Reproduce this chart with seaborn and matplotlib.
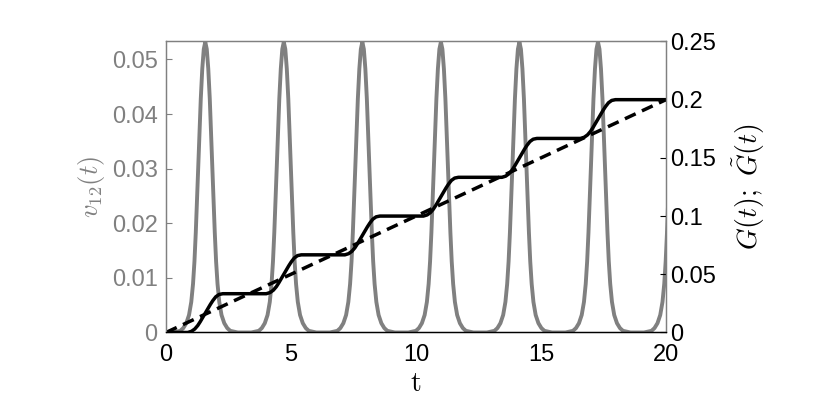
import numpy as np
import pandas as pd
import matplotlib
matplotlib.use("Agg")
import matplotlib.pyplot as plt
import seaborn as sns

# ---------------- data ----------------
# centres of the v12(t) pulses (t)
peak_t = [1.571, 4.712, 7.854, 10.996, 14.137, 17.279, 20.420]
# half-profile of one pulse: offset from centre and value
pulse_half_dt = [0.0, 0.06, 0.12, 0.18, 0.233, 0.28, 0.327, 0.38, 0.433,
                 0.49, 0.56, 0.65, 0.76, 0.88, 1.0, 1.3]
pulse_half_v = [0.0532, 0.0519, 0.0483, 0.0428, 0.0365, 0.0305, 0.0245,
                0.0183, 0.0130, 0.0089, 0.0056, 0.0032, 0.0017, 0.0008,
                0.0003, 0.0]

# G(t) staircase: step centres, plateau levels, shape of one step
step_t = [1.571, 4.712, 7.854, 10.996, 14.137, 17.279]
plateau_G = [0.0, 0.0333, 0.0667, 0.1000, 0.1333, 0.1667, 0.2000]
step_dt = [-0.7, -0.55, -0.42, -0.3, -0.2, -0.1, 0.0, 0.1, 0.2, 0.3, 0.42,
           0.55, 0.7]
step_frac = [0.0, 0.03, 0.09, 0.18, 0.28, 0.39, 0.5, 0.61, 0.72, 0.82,
             0.92, 0.98, 1.0]

# dashed trend G~(t)
trend_t = [0.0, 20.0]
trend_G = [0.0, 0.2]

x_ticks = [0, 5, 10, 15, 20]
left_ticks = [0, 0.01, 0.02, 0.03, 0.04, 0.05]
left_ticklabels = ["0", "0.01", "0.02", "0.03", "0.04", "0.05"]
right_ticks = [0, 0.05, 0.1, 0.15, 0.2, 0.25]
right_ticklabels = ["0", "0.05", "0.1", "0.15", "0.2", "0.25"]

# ---------------- build series ----------------
pdt = np.r_[-np.array(pulse_half_dt[::-1]), np.array(pulse_half_dt[1:])]
pv = np.r_[np.array(pulse_half_v[::-1]), np.array(pulse_half_v[1:])]
vt = [0.0]
vv = [0.0]
for c in peak_t:
    vt.extend(list(c + pdt))
    vv.extend(list(pv))
df_v = pd.DataFrame({"t": vt, "v": vv})

gt = [0.0]
gg = [0.0]
for k, c in enumerate(step_t):
    lo, hi = plateau_G[k], plateau_G[k + 1]
    for d, f in zip(step_dt, step_frac):
        gt.append(c + d)
        gg.append(lo + f * (hi - lo))
gt.append(20.0)
gg.append(plateau_G[-1])
df_g = pd.DataFrame({"t": gt, "G": gg})
df_tr = pd.DataFrame({"t": trend_t, "G": trend_G})

# ---------------- style ----------------
sns.set_theme(style="white")
plt.rcParams["font.family"] = ["Liberation Sans", "DejaVu Sans"]
plt.rcParams["mathtext.fontset"] = "cm"

GRAY = "#808080"
fig = plt.figure(figsize=(8.3, 4.18), dpi=100)
ax = fig.add_axes([0.2, 0.2046, 0.6024, 0.6962])
ax2 = ax.twinx()

sns.lineplot(data=df_v, x="t", y="v", ax=ax, color=GRAY, linewidth=2.8,
             estimator=None, sort=False)
sns.lineplot(data=df_g, x="t", y="G", ax=ax2, color="black", linewidth=2.5,
             estimator=None, sort=False)
sns.lineplot(data=df_tr, x="t", y="G", ax=ax2, color="black", linewidth=2.5,
             estimator=None, sort=False)
ax2.lines[-1].set_dashes((3.4, 2.0))

ax.set_xlim(0, 20)
ax.set_ylim(0, 0.0533)
ax2.set_ylim(0, 0.25)

ax.set_xticks(x_ticks)
ax.set_xticklabels([str(x) for x in x_ticks])
ax.set_yticks(left_ticks)
ax.set_yticklabels(left_ticklabels)
ax2.set_yticks(right_ticks)
ax2.set_yticklabels(right_ticklabels)

ax.tick_params(axis="y", direction="in", length=4, width=0.8, colors=GRAY,
               labelsize=17, pad=6)
ax.tick_params(axis="x", direction="in", length=4, width=0.8, colors="black",
               labelsize=17, pad=8)
ax2.tick_params(axis="y", direction="in", length=4, width=0.8,
                colors="black", labelsize=17, pad=3)

for a in (ax, ax2):
    for s in ("top", "left", "right"):
        a.spines[s].set_color(GRAY)
        a.spines[s].set_linewidth(0.9)
    a.spines["bottom"].set_color("black")
    a.spines["bottom"].set_linewidth(0.9)

ax.set_xlabel(r"$\mathrm{t}$", fontsize=20, color="black")
ax.xaxis.set_label_coords(0.5, -0.178)
ax.xaxis.label.set_verticalalignment("center")

ax.set_ylabel(r"$v_{12}(t)$", fontsize=19, color=GRAY)
ax.yaxis.set_label_coords(-0.15, 0.5)
ax.yaxis.label.set_verticalalignment("center")

ax2.set_ylabel(r"$G(t);\ \tilde{G}(t)$", fontsize=20, color="black")
ax2.yaxis.set_label_coords(1.166, 0.5)
ax2.yaxis.label.set_verticalalignment("center")
ax2.yaxis.label.set_rotation(90)

fig.savefig("out.png", dpi=100)
